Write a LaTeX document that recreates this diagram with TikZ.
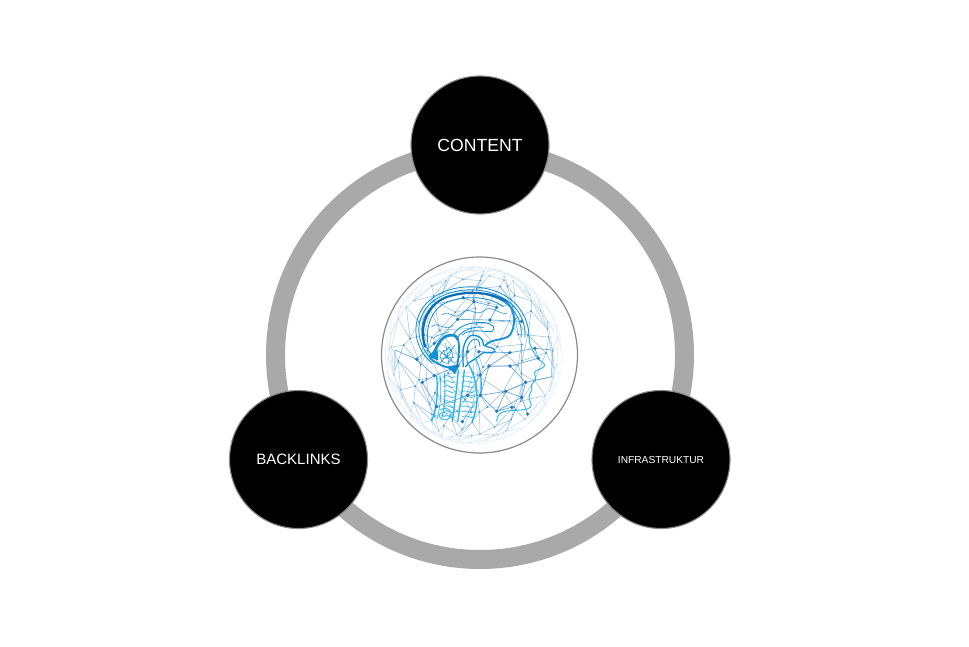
\documentclass[tikz,border=0pt]{standalone}
\usepackage{fontspec}
\setmainfont{Liberation Sans}
\definecolor{ringgrey}{HTML}{A9A9A9}
\definecolor{edgegrey}{HTML}{8A8A8A}
\definecolor{netline}{HTML}{8DBFE4}
\definecolor{netdot}{HTML}{2277BC}
\definecolor{cyanline}{HTML}{22B4EE}
\definecolor{deepblue}{HTML}{0B6CB4}
\definecolor{midblue}{HTML}{1590D8}
\tikzset{
  hub/.style={circle,fill=black,draw=edgegrey,line width=1.1pt,minimum size=138pt,inner sep=0pt,text=white,font=\fontsize{#1}{#1}\selectfont},
  core/.style={circle,draw=edgegrey,line width=1.2pt,fill=none,minimum size=196pt,inner sep=0pt},
  ringline/.style={draw=ringgrey,line width=19pt},
  net/.style={draw=netline,line width=.5pt},
  headc/.style={draw=cyanline,line width=.9pt,line cap=round,line join=round},
  deep/.style={draw=deepblue,line width=1.6pt,line cap=round,line join=round},
  mid/.style={draw=midblue,line width=.85pt,line cap=round,line join=round},
  thick cyan/.style={draw=cyanline,line width=1.3pt,line cap=round,line join=round}
}
% jittered longitude and latitude of a point of the globe, turned by 20 degrees
\newcommand{\lonf}[2]{((#1)-7)*12.6+5.5*sin((#1)*127+(#2)*311)}
\newcommand{\latf}[2]{((#2)-7)*12.6+5.5*sin((#1)*211+(#2)*83)}
\newcommand{\netpt}[4]{%
  \pgfmathsetmacro\lo{\lonf{#1}{#2}}%
  \pgfmathsetmacro\la{\latf{#1}{#2}}%
  \pgfmathsetmacro\pu{268*sin(\lo)*cos(\la)}%
  \pgfmathsetmacro\pv{268*sin(\la)}%
  \pgfmathsetmacro#3{295+.94*\pu-.34*\pv}%
  \pgfmathsetmacro#4{315+.34*\pu+.94*\pv}}
\begin{document}
\begin{tikzpicture}[x=1pt,y=-1pt]
\useasboundingbox (0,0) rectangle (969,646);
\fill[white] (0,0) rectangle (969,646);
\coordinate (ringc) at (480,355);
\draw[ringline] (ringc) circle[radius=204.5];
% brain picture, drawn in the coordinates of a 3x enlargement
\begin{scope}[shift={(375,250)},x=.3333pt,y=-.3333pt]
 \begin{scope}
 \clip (295,315) circle[radius=275];
 \foreach \i in {0,...,14}{\foreach \j in {0,...,14}{
   \netpt{\i}{\j}{\ax}{\ay}
   \pgfmathtruncatemacro\ii{\i+1}
   \pgfmathtruncatemacro\jj{\j+1}
   \netpt{\ii}{\j}{\bx}{\by}
   \netpt{\i}{\jj}{\cx}{\cy}
   \netpt{\ii}{\jj}{\dx}{\dy}
   \pgfmathtruncatemacro\diag{sin(\i*97+\j*173)>0 ? 1 : 0}
   \ifnum\i<14 \draw[net] (\ax,\ay) -- (\bx,\by);\fi
   \ifnum\j<14 \draw[net] (\ax,\ay) -- (\cx,\cy);\fi
   \ifnum\diag=1 \ifnum\i<14 \ifnum\j<14 \draw[net] (\ax,\ay) -- (\dx,\dy);\fi\fi\fi
   \fill[netdot!85!white] (\ax,\ay) circle[radius=3];
 }}
 \end{scope}
 % white wash on the rim of the sphere
 \foreach \r/\o in {240/.12,250/.2,260/.35,270/.55,282/.8}{\draw[white,opacity=\o,line width=11] (295,315) circle[radius=\r];}
 % larger net over the head
 \draw[net,draw=netline!70!netdot,line width=.7pt]
   (345,210)--(248,208)--(178,280)--(125,328)--(178,377)--(142,397)--(185,470)
   (248,208)--(297,155)--(365,172)--(345,210)--(440,214)
   (297,155)--(265,143)--(195,160)
   (405,308)--(342,348)--(405,348)--(452,397)--(392,424)--(316,436)--(342,348)
   (405,308)--(480,295)--(490,325) (405,348)--(490,325)
   (316,375)--(342,348) (316,375)--(316,436)--(278,436)--(316,375)
   (392,424)--(440,442)--(452,397) (392,424)--(365,484)--(316,436)
   (365,484)--(440,442)--(458,492) (365,484)--(410,472)
   (312,305)--(405,308) (278,305)--(248,348)--(178,377)
   (316,436)--(262,515) (125,328)--(60,300)--(60,360)
   (278,436)--(185,470) (452,397)--(530,380)--(532,300)--(480,295);
 % skull and face
 \draw[mid] (172,340) .. controls (110,290) and (105,200) .. (165,150) .. controls (230,95) and (360,95) .. (425,165) .. controls (450,195) and (462,225) .. (462,262);
 \draw[mid] (178,335) .. controls (120,285) and (115,205) .. (170,157) .. controls (235,105) and (355,105) .. (418,170) .. controls (442,198) and (452,228) .. (450,262);
 \draw[mid] (185,330) .. controls (130,280) and (125,210) .. (176,164) .. controls (240,115) and (350,115) .. (410,175) .. controls (432,200) and (442,230) .. (438,262);
 \draw[headc] (462,262) .. controls (462,285) and (475,305) .. (488,325) .. controls (498,335) and (512,342) .. (508,348) .. controls (502,358) and (480,360) .. (478,368) .. controls (476,375) and (486,380) .. (482,388) .. controls (478,398) and (466,402) .. (470,412) .. controls (474,420) and (464,428) .. (462,440) .. controls (462,455) and (474,462) .. (466,472) .. controls (450,486) and (400,476) .. (380,488) .. controls (368,494) and (364,505) .. (366,516);
 % cerebrum
 \draw[deep,line width=2.2pt] (150,290) .. controls (130,225) and (160,165) .. (210,143) .. controls (270,120) and (350,125) .. (395,155);
 \draw[deep,draw=midblue,line width=1.8pt] (395,155) .. controls (420,180) and (425,225) .. (405,255) .. controls (390,272) and (350,265) .. (332,285);
 \draw[mid] (160,290) .. controls (150,240) and (165,190) .. (200,165) .. controls (250,135) and (340,135) .. (385,170);
 \draw[mid] (235,255) .. controls (250,225) and (290,215) .. (330,218) .. controls (355,222) and (365,235) .. (350,245) .. controls (320,245) and (285,235) .. (262,255);
 \draw[mid] (248,262) .. controls (262,240) and (295,228) .. (325,232);
 \draw[mid,line width=.55pt] (200,195) .. controls (225,175) and (235,215) .. (260,190) .. controls (285,165) and (300,205) .. (330,180) .. controls (350,165) and (375,195) .. (395,190);
 \draw[mid,line width=.55pt] (170,230) .. controls (195,210) and (205,250) .. (235,225) (175,265) .. controls (190,250) and (205,255) .. (222,245);
 % cerebellum and brain stem
 \draw[deep,draw=midblue,line width=2.8pt] (165,318) .. controls (185,310) and (185,270) .. (215,258) .. controls (232,252) and (245,256) .. (248,268);
 \fill[midblue] (160,322) -- (188,300) -- (190,330) -- cycle;
 \draw[deep,draw=midblue,line width=1.8pt] (165,325) .. controls (190,345) and (215,355) .. (245,355) .. controls (252,320) and (255,285) .. (248,265);
 \fill[midblue] (215,350) -- (255,343) -- (240,372) -- cycle;
 \draw[mid,line width=.6pt] (195,320) .. controls (200,295) and (215,310) .. (222,290) .. controls (232,305) and (238,320) .. (225,335) .. controls (215,345) and (200,340) .. (195,320);
 \draw[mid,line width=.5pt] (205,300) -- (215,325) -- (232,300) (200,325) -- (238,322) (212,280) -- (222,345) (190,300) -- (240,340) (240,285) -- (195,340);
 \draw[thick cyan,draw=midblue] (265,350) .. controls (262,310) and (262,275) .. (285,258) .. controls (305,250) and (325,262) .. (325,285) .. controls (340,295) and (360,290) .. (360,305) .. controls (345,315) and (325,300) .. (315,315) .. controls (300,330) and (280,335) .. (272,350);
 \draw[mid] (278,345) .. controls (272,310) and (275,282) .. (292,270) .. controls (305,262) and (315,272) .. (315,290);
 % spine
 \draw[thick cyan] (185,378) .. controls (190,430) and (185,480) .. (170,512);
 \draw[thick cyan] (250,360) .. controls (245,420) and (238,470) .. (232,515);
 \draw[thick cyan] (268,360) .. controls (262,420) and (255,470) .. (248,515);
 \draw[thick cyan] (282,345) .. controls (312,400) and (312,470) .. (292,512);
 \draw[headc] (300,325) .. controls (318,350) and (322,400) .. (318,440) (208,370) .. controls (212,420) and (210,470) .. (200,505);
 \draw[headc,line width=.65pt] (195,372) .. controls (200,425) and (196,475) .. (186,508);
 \foreach \v in {380,395,...,500}{
   \draw[headc,line width=.65pt] (206,\v) .. controls (225,{\v-10}) and (225,{\v+10}) .. (240,\v);
   \draw[headc,line width=.65pt] (262,\v) .. controls (275,{\v-9}) and (285,{\v+9}) .. (300,\v);
 }
 \draw[headc,line width=.7pt] (195,480) .. controls (210,470) and (230,475) .. (228,495) .. controls (226,512) and (200,515) .. (192,500) .. controls (190,490) and (205,482) .. (218,492);
 % dots of the network
 \foreach \x/\y in {297/155,365/172,345/210,248/208,440/214,178/280,125/328,178/377,142/397,248/348,278/305,312/305,405/308,405/348,342/348,316/375,316/436,278/436,392/424,452/397,440/442,365/484,410/472,458/492,185/470,262/515,480/295,490/325,265/143}{
   \fill[netdot] (\x,\y) circle[radius=5.5];
 }
\end{scope}
\node[core] (brain) at (479.5,355) {};
\node[hub=17.6] (content) at (480,145) {CONTENT};
\node[hub=15] (backlinks) at (298.5,459.5) {BACKLINKS};
\node[hub=10.2] (infra) at (661,459.5) {INFRASTRUKTUR};
\end{tikzpicture}
\end{document}
